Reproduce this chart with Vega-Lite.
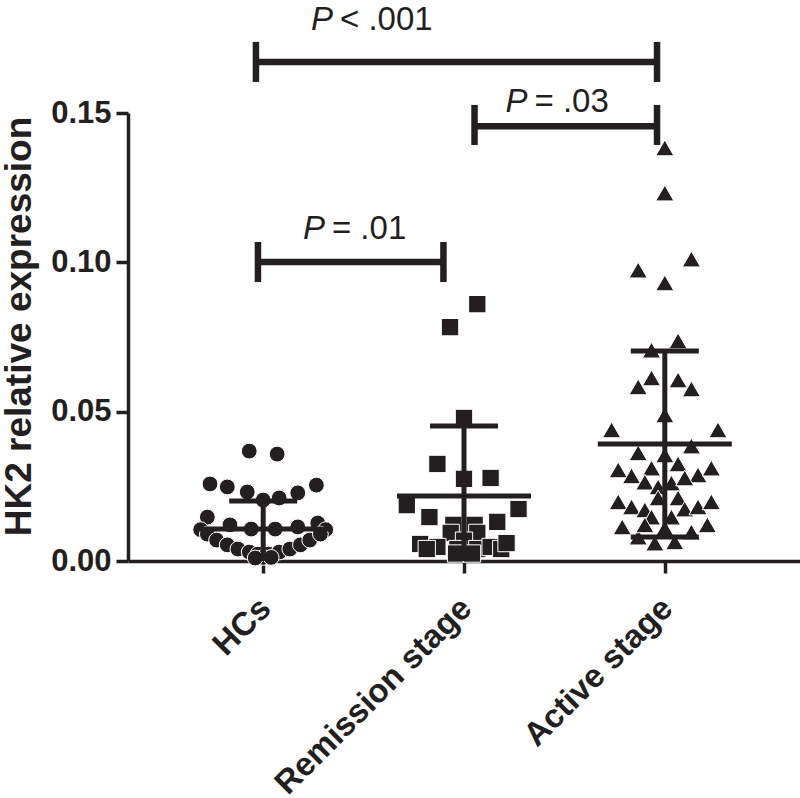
{
  "$schema": "https://vega.github.io/schema/vega-lite/v6.json",
  "width": 672,
  "height": 448,
  "autosize": {"type": "none"},
  "padding": {"left": 128, "top": 113, "right": 0, "bottom": 237},
  "background": "white",
  "config": {"view": {"stroke": null}, "font": "Liberation Sans"},
  "datasets": {
    "pts": [
      {"group": "HCs", "slot": -1.05, "value": 0.0368},
      {"group": "HCs", "slot": 1.05, "value": 0.0358},
      {"group": "HCs", "slot": -4, "value": 0.0258},
      {"group": "HCs", "slot": -2.7, "value": 0.0248},
      {"group": "HCs", "slot": -1.2, "value": 0.0231},
      {"group": "HCs", "slot": 0, "value": 0.0204},
      {"group": "HCs", "slot": 1.2, "value": 0.0211},
      {"group": "HCs", "slot": 2.6, "value": 0.0228},
      {"group": "HCs", "slot": 4, "value": 0.0254},
      {"group": "HCs", "slot": -4.2, "value": 0.0147},
      {"group": "HCs", "slot": -2.5, "value": 0.0121},
      {"group": "HCs", "slot": -0.9, "value": 0.0107},
      {"group": "HCs", "slot": 0.9, "value": 0.0107},
      {"group": "HCs", "slot": 2.6, "value": 0.0114},
      {"group": "HCs", "slot": 4.1, "value": 0.0127},
      {"group": "HCs", "slot": -4.7, "value": 0.0105},
      {"group": "HCs", "slot": 4.7, "value": 0.0105},
      {"group": "HCs", "slot": -4.2, "value": 0.009},
      {"group": "HCs", "slot": -3.5, "value": 0.007},
      {"group": "HCs", "slot": -2.7, "value": 0.0054},
      {"group": "HCs", "slot": -1.9, "value": 0.004},
      {"group": "HCs", "slot": -1.05, "value": 0.003},
      {"group": "HCs", "slot": -0.4, "value": 0.0023},
      {"group": "HCs", "slot": 0.4, "value": 0.0023},
      {"group": "HCs", "slot": 1.2, "value": 0.003},
      {"group": "HCs", "slot": 2, "value": 0.004},
      {"group": "HCs", "slot": 2.8, "value": 0.0054},
      {"group": "HCs", "slot": 3.5, "value": 0.007},
      {"group": "HCs", "slot": 4.3, "value": 0.009},
      {"group": "HCs", "slot": 0, "value": 0.0012},
      {"group": "HCs", "slot": -0.6, "value": 0.001},
      {"group": "HCs", "slot": 0.6, "value": 0.0012},
      {"group": "Remission stage", "slot": 1, "value": 0.086},
      {"group": "Remission stage", "slot": -1.05, "value": 0.0783},
      {"group": "Remission stage", "slot": 0, "value": 0.0479},
      {"group": "Remission stage", "slot": -2, "value": 0.0325},
      {"group": "Remission stage", "slot": 0, "value": 0.0275},
      {"group": "Remission stage", "slot": 2, "value": 0.0278},
      {"group": "Remission stage", "slot": -4.3, "value": 0.0187},
      {"group": "Remission stage", "slot": 4.1, "value": 0.0174},
      {"group": "Remission stage", "slot": -2.6, "value": 0.0147},
      {"group": "Remission stage", "slot": 2.5, "value": 0.0131},
      {"group": "Remission stage", "slot": -0.8, "value": 0.0121},
      {"group": "Remission stage", "slot": 0.8, "value": 0.0121},
      {"group": "Remission stage", "slot": -1, "value": 0.0094},
      {"group": "Remission stage", "slot": 1, "value": 0.0094},
      {"group": "Remission stage", "slot": 0, "value": 0.0068},
      {"group": "Remission stage", "slot": -3.3, "value": 0.0057},
      {"group": "Remission stage", "slot": -2, "value": 0.0047},
      {"group": "Remission stage", "slot": -2.8, "value": 0.004},
      {"group": "Remission stage", "slot": -0.5, "value": 0.004},
      {"group": "Remission stage", "slot": 1, "value": 0.004},
      {"group": "Remission stage", "slot": 2, "value": 0.0047},
      {"group": "Remission stage", "slot": 2.8, "value": 0.004},
      {"group": "Remission stage", "slot": 3.2, "value": 0.006},
      {"group": "Remission stage", "slot": -0.6, "value": 0.0025},
      {"group": "Remission stage", "slot": 0.6, "value": 0.0025},
      {"group": "Active stage", "slot": 0, "value": 0.1383},
      {"group": "Active stage", "slot": 0, "value": 0.1232},
      {"group": "Active stage", "slot": -2, "value": 0.0974},
      {"group": "Active stage", "slot": 2, "value": 0.1011},
      {"group": "Active stage", "slot": 0, "value": 0.0931},
      {"group": "Active stage", "slot": 1, "value": 0.0737},
      {"group": "Active stage", "slot": -1, "value": 0.0706},
      {"group": "Active stage", "slot": -1, "value": 0.0613},
      {"group": "Active stage", "slot": -2, "value": 0.0583},
      {"group": "Active stage", "slot": 1, "value": 0.0606},
      {"group": "Active stage", "slot": 2, "value": 0.0576},
      {"group": "Active stage", "slot": 0, "value": 0.0489},
      {"group": "Active stage", "slot": -4, "value": 0.0439},
      {"group": "Active stage", "slot": 4, "value": 0.0439},
      {"group": "Active stage", "slot": -2, "value": 0.0362},
      {"group": "Active stage", "slot": 0, "value": 0.0355},
      {"group": "Active stage", "slot": 2, "value": 0.0385},
      {"group": "Active stage", "slot": -3.5, "value": 0.0305},
      {"group": "Active stage", "slot": -2.5, "value": 0.0285},
      {"group": "Active stage", "slot": -1, "value": 0.0311},
      {"group": "Active stage", "slot": 1, "value": 0.0325},
      {"group": "Active stage", "slot": 2.5, "value": 0.0288},
      {"group": "Active stage", "slot": 3.5, "value": 0.0311},
      {"group": "Active stage", "slot": -1.5, "value": 0.0264},
      {"group": "Active stage", "slot": -0.5, "value": 0.0248},
      {"group": "Active stage", "slot": 0.5, "value": 0.0261},
      {"group": "Active stage", "slot": 1.5, "value": 0.0278},
      {"group": "Active stage", "slot": -3.5, "value": 0.0198},
      {"group": "Active stage", "slot": -2.5, "value": 0.0181},
      {"group": "Active stage", "slot": -1.5, "value": 0.0171},
      {"group": "Active stage", "slot": -0.5, "value": 0.0211},
      {"group": "Active stage", "slot": 1, "value": 0.0211},
      {"group": "Active stage", "slot": 1.5, "value": 0.0174},
      {"group": "Active stage", "slot": 2.5, "value": 0.0181},
      {"group": "Active stage", "slot": 3.5, "value": 0.0198},
      {"group": "Active stage", "slot": -1, "value": 0.0147},
      {"group": "Active stage", "slot": 0.5, "value": 0.0147},
      {"group": "Active stage", "slot": -3.2, "value": 0.0114},
      {"group": "Active stage", "slot": 3.2, "value": 0.0121},
      {"group": "Active stage", "slot": 2, "value": 0.0097},
      {"group": "Active stage", "slot": -2, "value": 0.008},
      {"group": "Active stage", "slot": -0.75, "value": 0.006},
      {"group": "Active stage", "slot": 0.75, "value": 0.0064},
      {"group": "Active stage", "slot": 0, "value": 0.011},
      {"group": "Active stage", "slot": -1.5, "value": 0.0121}
    ],
    "summary": [
      {"group": "HCs", "mean": 0.0107, "lo": 0, "hi": 0.0201},
      {"group": "Remission stage", "mean": 0.0218, "lo": 0, "hi": 0.0452},
      {"group": "Active stage", "mean": 0.0392, "lo": 0.008, "hi": 0.0703}
    ],
    "brackets": [
      {"x1": 0.965, "x2": 2.965, "y": 0.1671, "ylo": 0.1604, "yhi": 0.1738},
      {"x1": 2.055, "x2": 2.965, "y": 0.1456, "ylo": 0.1393, "yhi": 0.1527},
      {"x1": 0.975, "x2": 1.9, "y": 0.1001, "ylo": 0.0934, "yhi": 0.1068}
    ],
    "plabels": [
      {"xs": 1.349, "y": 0.1778, "rest": "< .001"},
      {"xs": 2.319, "y": 0.1503, "rest": "= .03"},
      {"xs": 1.309, "y": 0.1078, "rest": "= .01"}
    ]
  },
  "resolve": {"scale": {"x": "independent"}, "axis": {"x": "independent"}},
  "layer": [
    {
      "layer": [
        {
          "data": {"name": "pts"},
          "transform": [{"filter": "datum.group == 'HCs'"}],
          "mark": {"type": "point", "shape": "circle", "filled": true, "size": 250, "color": "#231f20", "stroke": "white", "strokeWidth": 1, "opacity": 1},
          "encoding": {
            "x": {
              "field": "group", "type": "nominal", "sort": null,
              "scale": {"type": "point", "domain": ["HCs", "Remission stage", "Active stage"], "padding": 0.6733},
              "axis": {
                "title": null, "grid": false,
                "labelAngle": -45, "labelAlign": "right", "labelBaseline": "middle",
                "labelFont": "Liberation Sans", "labelFontWeight": "bold", "labelFontSize": 33, "labelColor": "#231f20",
                "labelPadding": 30, "labelOffset": 2, "labelOverlap": false, "labelBound": false, "labelFlush": false, "labelLimit": 400,
                "tickSize": 12, "tickWidth": 3.5, "tickColor": "#231f20",
                "domainColor": "#231f20", "domainWidth": 3.5
              }
            },
            "xOffset": {"field": "slot", "type": "quantitative", "scale": {"domain": [-10, 10], "range": [-133, 133]}},
            "y": {
              "field": "value", "type": "quantitative",
              "scale": {"domain": [0, 0.15], "nice": false, "zero": false},
              "axis": {
                "values": [0, 0.05, 0.1, 0.15], "format": ".2f",
                "title": "HK2 relative expression", "grid": false,
                "titleFont": "Liberation Sans", "titleFontSize": 37, "titleFontWeight": "bold", "titleColor": "#231f20",
                "titlePadding": 12, "titleY": 213,
                "labelFont": "Liberation Sans", "labelFontWeight": "bold", "labelFontSize": 31, "labelColor": "#231f20",
                "labelPadding": 5,
                "tickSize": 12, "tickWidth": 3.5, "tickColor": "#231f20",
                "domainColor": "#231f20", "domainWidth": 3.5
              }
            }
          }
        },
        {
          "data": {"name": "pts"},
          "transform": [{"filter": "datum.group == 'Remission stage'"}],
          "mark": {"type": "point", "shape": "square", "filled": true, "size": 300, "color": "#231f20", "stroke": "white", "strokeWidth": 1, "opacity": 1},
          "encoding": {
            "x": {"field": "group", "type": "nominal", "sort": null, "scale": {"type": "point", "domain": ["HCs", "Remission stage", "Active stage"], "padding": 0.6733}},
            "xOffset": {"field": "slot", "type": "quantitative", "scale": {"domain": [-10, 10], "range": [-133, 133]}},
            "y": {"field": "value", "type": "quantitative", "scale": {"domain": [0, 0.15], "nice": false, "zero": false}}
          }
        },
        {
          "data": {"name": "pts"},
          "transform": [{"filter": "datum.group == 'Active stage'"}],
          "mark": {"type": "point", "shape": "triangle-up", "filled": true, "size": 330, "color": "#231f20", "stroke": "white", "strokeWidth": 1, "opacity": 1},
          "encoding": {
            "x": {"field": "group", "type": "nominal", "sort": null, "scale": {"type": "point", "domain": ["HCs", "Remission stage", "Active stage"], "padding": 0.6733}},
            "xOffset": {"field": "slot", "type": "quantitative", "scale": {"domain": [-10, 10], "range": [-133, 133]}},
            "y": {"field": "value", "type": "quantitative", "scale": {"domain": [0, 0.15], "nice": false, "zero": false}}
          }
        },
        {
          "data": {"name": "summary"},
          "mark": {"type": "rule", "color": "#231f20", "strokeWidth": 5},
          "encoding": {
            "x": {"field": "group", "type": "nominal", "sort": null, "scale": {"type": "point", "domain": ["HCs", "Remission stage", "Active stage"], "padding": 0.6733}},
            "y": {"field": "lo", "type": "quantitative", "scale": {"domain": [0, 0.15], "nice": false, "zero": false}},
            "y2": {"field": "hi"}
          }
        },
        {
          "data": {"name": "summary"},
          "mark": {"type": "tick", "orient": "horizontal", "color": "#231f20", "size": 134, "thickness": 5, "opacity": 1},
          "encoding": {
            "x": {"field": "group", "type": "nominal", "sort": null, "scale": {"type": "point", "domain": ["HCs", "Remission stage", "Active stage"], "padding": 0.6733}},
            "y": {"field": "mean", "type": "quantitative", "scale": {"domain": [0, 0.15], "nice": false, "zero": false}}
          }
        },
        {
          "data": {"name": "summary"},
          "mark": {"type": "tick", "orient": "horizontal", "color": "#231f20", "size": 68, "thickness": 5, "opacity": 1},
          "encoding": {
            "x": {"field": "group", "type": "nominal", "sort": null, "scale": {"type": "point", "domain": ["HCs", "Remission stage", "Active stage"], "padding": 0.6733}},
            "y": {"field": "hi", "type": "quantitative", "scale": {"domain": [0, 0.15], "nice": false, "zero": false}}
          }
        },
        {
          "data": {"name": "summary"},
          "transform": [{"filter": "datum.lo > 0"}],
          "mark": {"type": "tick", "orient": "horizontal", "color": "#231f20", "size": 68, "thickness": 5, "opacity": 1},
          "encoding": {
            "x": {"field": "group", "type": "nominal", "sort": null, "scale": {"type": "point", "domain": ["HCs", "Remission stage", "Active stage"], "padding": 0.6733}},
            "y": {"field": "lo", "type": "quantitative", "scale": {"domain": [0, 0.15], "nice": false, "zero": false}}
          }
        }
      ]
    },
    {
      "layer": [
        {
          "data": {"name": "brackets"},
          "mark": {"type": "rule", "color": "#231f20", "strokeWidth": 6.5},
          "encoding": {
            "x": {"field": "x1", "type": "quantitative", "scale": {"domain": [0.327, 3.678], "nice": false, "zero": false}, "axis": null},
            "x2": {"field": "x2"},
            "y": {"field": "y", "type": "quantitative", "scale": {"domain": [0, 0.15], "nice": false, "zero": false}}
          }
        },
        {
          "data": {"name": "brackets"},
          "mark": {"type": "rule", "color": "#231f20", "strokeWidth": 6.5},
          "encoding": {
            "x": {"field": "x1", "type": "quantitative", "scale": {"domain": [0.327, 3.678], "nice": false, "zero": false}, "axis": null},
            "y": {"field": "ylo", "type": "quantitative", "scale": {"domain": [0, 0.15], "nice": false, "zero": false}},
            "y2": {"field": "yhi"}
          }
        },
        {
          "data": {"name": "brackets"},
          "mark": {"type": "rule", "color": "#231f20", "strokeWidth": 6.5},
          "encoding": {
            "x": {"field": "x2", "type": "quantitative", "scale": {"domain": [0.327, 3.678], "nice": false, "zero": false}, "axis": null},
            "y": {"field": "ylo", "type": "quantitative", "scale": {"domain": [0, 0.15], "nice": false, "zero": false}},
            "y2": {"field": "yhi"}
          }
        },
        {
          "data": {"name": "plabels"},
          "mark": {"type": "text", "text": "P", "font": "Liberation Sans", "fontStyle": "italic", "fontSize": 33, "color": "#231f20", "align": "right", "baseline": "alphabetic"},
          "encoding": {
            "x": {"field": "xs", "type": "quantitative", "scale": {"domain": [0.327, 3.678], "nice": false, "zero": false}, "axis": null},
            "y": {"field": "y", "type": "quantitative", "scale": {"domain": [0, 0.15], "nice": false, "zero": false}}
          }
        },
        {
          "data": {"name": "plabels"},
          "mark": {"type": "text", "font": "Liberation Sans", "fontSize": 33, "color": "#231f20", "align": "left", "baseline": "alphabetic", "dx": 7},
          "encoding": {
            "x": {"field": "xs", "type": "quantitative", "scale": {"domain": [0.327, 3.678], "nice": false, "zero": false}, "axis": null},
            "y": {"field": "y", "type": "quantitative", "scale": {"domain": [0, 0.15], "nice": false, "zero": false}},
            "text": {"field": "rest", "type": "nominal"}
          }
        }
      ]
    }
  ]
}
